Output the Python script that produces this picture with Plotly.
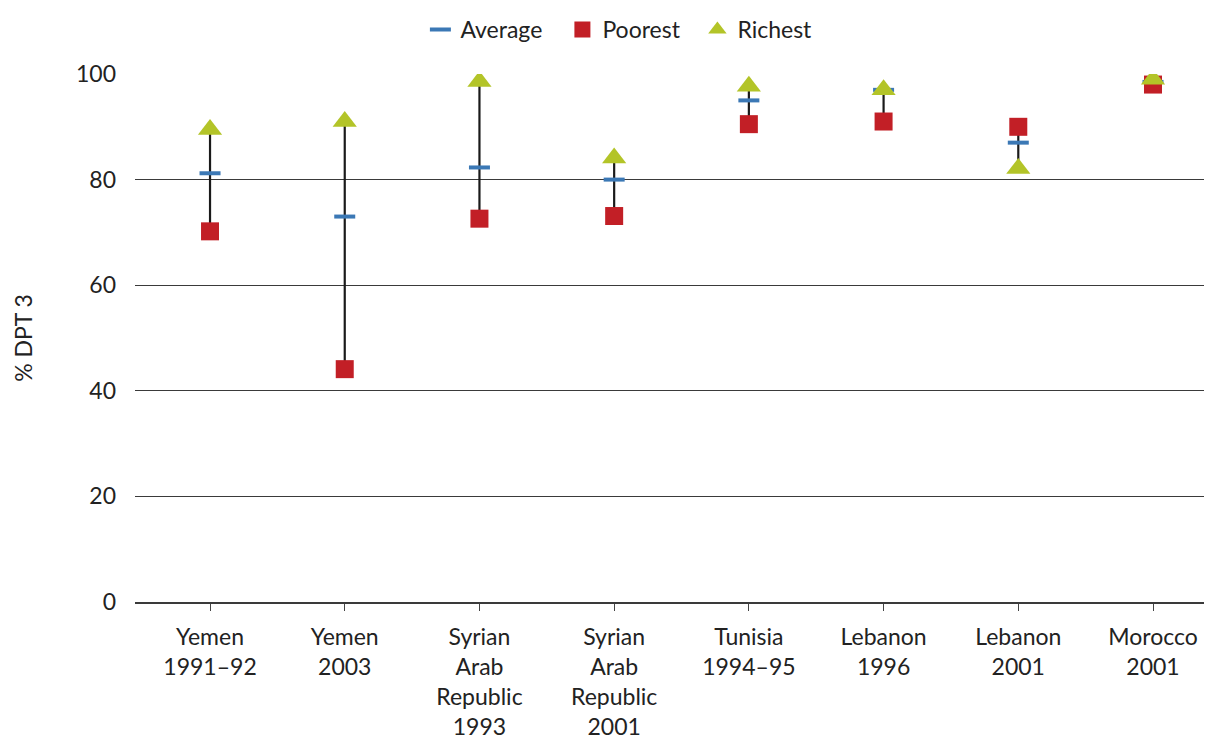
import plotly.graph_objects as go

categories = [
    "Yemen<br>1991–92",
    "Yemen<br>2003",
    "Syrian<br>Arab<br>Republic<br>1993",
    "Syrian<br>Arab<br>Republic<br>2001",
    "Tunisia<br>1994–95",
    "Lebanon<br>1996",
    "Lebanon<br>2001",
    "Morocco<br>2001",
]
average = [81.2, 73.0, 82.3, 80.0, 95.0, 97.0, 87.0, 98.5]
poorest = [70.2, 44.1, 72.6, 73.1, 90.5, 91.0, 90.0, 98.0]
richest = [89.5, 91.0, 98.6, 84.1, 97.7, 97.0, 82.1, 99.0]

FONT = "Lato, 'Noto Sans', sans-serif"
INK = "#222222"

x_idx = list(range(len(categories)))

# vertical connector between poorest and richest
seg_x, seg_y = [], []
for i, lo, hi in zip(x_idx, poorest, richest):
    seg_x += [i, i, None]
    seg_y += [lo, hi, None]

fig = go.Figure()
fig.add_trace(go.Scatter(
    x=seg_x, y=seg_y, mode="lines",
    line=dict(color="#1a1a1a", width=2.2),
    showlegend=False, hoverinfo="skip",
))
fig.add_trace(go.Scatter(
    x=x_idx, y=average, mode="markers", name="Average", legendwidth=97,
    marker=dict(symbol="line-ew", size=15, line=dict(color="#3b78b5", width=4)),
))
fig.add_trace(go.Scatter(
    x=x_idx, y=poorest, mode="markers", name="Poorest", legendwidth=90,
    marker=dict(symbol="square", size=18, color="#c21f26"),
))
fig.add_trace(go.Scatter(
    x=x_idx, y=richest, mode="markers", name="Richest", legendwidth=90,
    marker=dict(symbol="triangle-up", size=21, color="#b3c428"),
))

# page body adds an 8px offset, so the figure is sized to fill the rest
fig.update_layout(
    width=1204, height=741,
    paper_bgcolor="white", plot_bgcolor="white",
    font=dict(family=FONT, size=23, color=INK),
    margin=dict(l=127, r=0, t=65, b=147),
    legend=dict(orientation="h", x=0.265, xanchor="left", y=1.085, yanchor="middle",
                font=dict(size=23), itemwidth=30, entrywidthmode="pixels"),
    xaxis=dict(
        range=[-0.557, 7.438], automargin=False,
        tickmode="array", tickvals=x_idx, ticktext=categories,
        tickson="boundaries", ticks="outside", ticklen=7, tickcolor="#444",
        showline=True, linecolor="#3a3a3a", linewidth=1.5,
        showgrid=False, zeroline=False,
        ticklabelstandoff=7,
        tickfont=dict(size=23),
    ),
    yaxis=dict(
        range=[0, 100], tickvals=[0, 20, 40, 60, 80, 100], automargin=False,
        showgrid=True, gridcolor="#3a3a3a", gridwidth=1.3,
        zeroline=False, showline=False, ticks="",
        ticklabelstandoff=18,
        title=dict(text="% DPT 3", standoff=36, font=dict(size=23)),
    ),
)

fig.write_html("out.html")
